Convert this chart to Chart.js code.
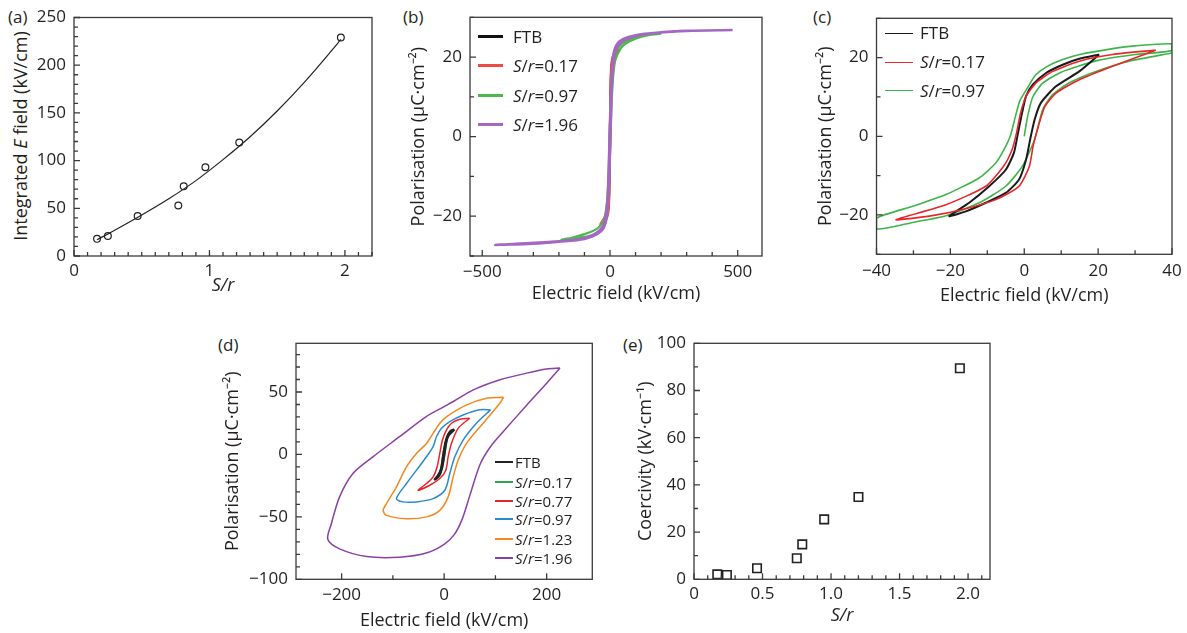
<!DOCTYPE html>
<html>
<head>
<meta charset="utf-8">
<script src="https://cdn.jsdelivr.net/npm/chart.js@4.4.1/dist/chart.umd.min.js"></script>
<style>
  body { margin: 0; background: #fff; width: 1187px; height: 633px; position: relative; overflow: hidden;
         font-family: "Open Sans", sans-serif; color: #231f20; }
  canvas { position: absolute; }
  .tag { position: absolute; font-size: 17px; line-height: 20px; white-space: nowrap; }
  .row { position: absolute; height: 20px; line-height: 20px; white-space: nowrap; }
  .sw { position: absolute; top: 10px; }
  .vt { position: absolute; font-size: 18px; line-height: 22px; white-space: nowrap;
        transform: translate(-50%, -50%) rotate(-90deg); }
</style>
</head>
<body>
<div class="tag" style="left:8px;top:7px">(a)</div>
<div class="tag" style="left:403px;top:7px">(b)</div>
<div class="tag" style="left:813px;top:7px">(c)</div>
<div class="tag" style="left:218px;top:335px">(d)</div>
<div class="tag" style="left:623px;top:335px">(e)</div>
<div class="vt" style="left:20px;top:136px">Integrated <i>E</i> field (kV/cm)</div>
<script>
// ---- (a) integrated field vs S/r
const srA = [0.17, 0.25, 0.47, 0.77, 0.81, 0.97, 1.22, 1.97];
const fieldA = [18, 21, 42, 53, 73, 93, 119, 229];
const fitSrA = [0.17, 0.3, 0.5, 0.7, 0.9, 1.1, 1.3, 1.5, 1.7, 1.9, 1.97];
const fitFieldA = [17, 27, 43, 60, 79, 101, 125, 152, 182, 215, 227];

// ---- (b) wide field loops
const ftbBx = [20, 10, 4, 1, -1, -3, -8, -20, -10, -4, -1, 1, 3, 8, 20];
const ftbBy = [20.5, 19.5, 16, 8, 0, -10, -18, -20.5, -19.5, -16, -8, 0, 10, 18, 20.5];
const r017Bx = [38, 25, 12, 5, 2, -1, -4, -10, -20, -38, -25, -12, -5, -2, 1, 4, 10, 20, 38];
const r017By = [22, 21.5, 20.5, 18.5, 14, 2, -10, -17, -20, -22, -21.5, -20.5, -18.5, -14, -2, 10, 17, 20, 22];
const r097Bx = [200, 150, 100, 60, 40, 20, 10, 5, 0, -5, -10, -20, -40, -60, -100, -150, -190,
                -150, -100, -60, -40, -20, -10, -5, 0, 5, 10, 20, 40, 60, 100, 150, 200];
const r097By = [25.9, 25.7, 25, 24, 23, 21, 18, 12, 3, -8, -15, -20, -22.5, -23.5, -24.5, -25.4, -25.9,
                -25.7, -25.2, -24.6, -23.8, -22, -19, -13, -4, 6, 13, 19, 22, 23.3, 24.6, 25.5, 25.9];
const r196Bx = [480, 300, 200, 100, 50, 25, 12, 5, 0, -5, -10, -20, -40, -100, -200, -300, -450,
                -300, -200, -100, -50, -25, -12, -5, 0, 5, 10, 20, 40, 100, 200, 300, 480];
const r196By = [26.8, 26.6, 26.2, 25.5, 24.5, 23, 20, 12, 3, -8, -16, -21, -23.5, -25.5, -26.3, -26.7, -27.2,
                -26.9, -26.4, -25.7, -24.5, -23, -20, -12, -3, 8, 16, 21, 23.5, 25.3, 26.2, 26.6, 26.8];

// ---- (c) low field loops
const ftbCx = [20.3, 14.9, 10.4, 5.9, 2.3, 0.5, -0.6, -1.7, -2.8, -5, -9.5, -14.9, -20.3,
               -15.8, -10.4, -5, -1.4, 0.5, 1.6, 2.8, 4.5, 8.6, 14.9, 20.3];
const ftbCy = [20.8, 19.7, 18.2, 16.1, 13.1, 10.2, 5.9, 0.8, -4.2, -8.5, -12.7, -16.9, -20.3,
               -19.1, -16.9, -14.4, -11, -5.9, -0.8, 4.2, 8.5, 12.7, 16.5, 20.8];
const r017Cx = [35.6, 23.9, 14.9, 7.7, 3.2, 0.5, -1, -2.1, -3.3, -5.6, -10.4, -21.2, -34.7,
                -25.7, -16.7, -7.7, -1.4, 1.4, 2.4, 3.8, 5.6, 8.6, 14.9, 23.9, 35.6];
const r017Cy = [21.9, 20.8, 19.1, 16.5, 13.6, 10.2, 5.9, 0.8, -3.4, -7.6, -12.7, -17.4, -21.2,
                -20.3, -18.6, -16.1, -12.7, -7.6, -2.5, 2.5, 7.6, 11, 14.4, 17.8, 21.9];
const r097Cx = [0, 0.9, 2.3, 5, 10, 20, 30, 40,
                40, 30, 24, 15, 10.4, 5.9, 3, 1, -1.2, -2.4, -3.8, -5.6, -7.7, -12.2, -21.2, -30.2, -40,
                -40, -30.2, -21.2, -12.2, -5, -0.5, 2.8, 5, 7.7, 12.2, 19.4, 28.4, 40];
const r097Cy = [0, 5, 10, 13.5, 16.3, 19.3, 20.8, 21.8,
                23.5, 23, 22.3, 20.8, 19.5, 17.6, 15.5, 12.5, 9, 5, 0, -3.6, -6.8, -10.6, -14.8, -17.8, -20.8,
                -23.6, -21.9, -20.2, -16.9, -12.7, -7.6, -0.8, 6.8, 10.6, 13.6, 16.5, 19.1, 21.2];

// ---- (d) loops for all samples
const ftbDx = [20, 12, 6, 2, -2, -6, -12, -18, -10, -4, 0, 4, 8, 20];
const ftbDy = [20, 18.5, 14, 8, -2, -12, -17, -20, -17, -10, 0, 10, 15, 20];
const r017Dx = [19, 10, 4, 0, -3, -6, -10, -16, -8, -3, 1, 4, 8, 19];
const r017Dy = [19.5, 17.5, 12, 5, -3, -11, -16, -19.5, -16, -9, 0, 9, 15, 19.5];
const r077Dx = [50, 30.6, 14.3, 4.6, -3.3, -8.5, -13.7, -21.5, -34.5, -50.7, -28, -8.5, 3.3, 7.8, 14.3, 27.3, 50];
const r077Dy = [29, 28.2, 25, 19.6, 11.5, 0.8, -9.9, -18, -23.3, -28.7, -24.7, -19.3, -12.6, -1.9, 8.8, 20.9, 29];
const r097Dx = [90.4, 69.6, 37, 11, -5.2, -15, -21.5, -34.5, -54, -73.5, -93, -80, -54, -21.5, 1.3, 11, 20.8, 37, 63, 90.4];
const r097Dy = [35.7, 35.7, 31.6, 26.3, 20.9, 14.2, 6.2, -1.9, -12.6, -23.3, -35.4, -38, -38, -35.4, -28.7, -15.3, -1.9, 11.5, 25, 35.7];
const r123Dx = [116, 83, 44, 5, -8.5, -21.5, -34.5, -54, -73.5, -93, -112.5, -119,
                -112.5, -73.5, -34.5, -8.5, 7.8, 17.6, 27.3, 43.6, 76, 108.6, 116];
const r123Dy = [45.8, 45, 39.7, 30.3, 24.9, 16.9, 8.8, 0.8, -9.9, -26, -39.4, -44.8,
                -48.8, -51.5, -50, -44.8, -34, -18, -4.6, 8.8, 25, 41, 45.8];
const r196Dx = [226, 200, 161, 109, 57, 18, 0, -35, -87, -139, -178, -204, -220, -227,
                -204, -151, -87, -35, 0, 20, 35, 50, 70, 90, 118, 160, 200, 226];
const r196Dy = [69.2, 68.4, 65.1, 59.8, 51.7, 42.4, 38.3, 30.3, 14.2, -1.9, -15.3, -34, -55.5, -68,
                -75.6, -81.8, -82.3, -79, -72, -64, -52, -33, -8, 6, 19.5, 39, 57, 69.2];

// ---- (e) coercivity vs S/r
const srE = [0.17, 0.24, 0.46, 0.75, 0.79, 0.95, 1.2, 1.94];
const coerE = [2.1, 1.8, 4.7, 8.9, 14.8, 25.4, 34.9, 89.4];

const ink = '#231f20';
const font = { family: '"Open Sans", sans-serif', size: 17 };
const titleFont = { family: '"Open Sans", sans-serif', size: 18 };
const minus = v => v < 0 ? '\u2212' + Math.abs(v) : String(v);
const pts = (xs, ys) => xs.map((x, i) => ({ x: x, y: ys[i] }));
const loop = (label, xs, ys, color, w, t) => ({
  label: label, data: pts(xs, ys), showLine: true, borderColor: color, borderWidth: w,
  pointRadius: 0, tension: t === undefined ? 0.3 : t, fill: false
});

// frame + inward ticks on left and bottom
const frameTicks = {
  id: 'frameTicks',
  afterDatasetsDraw(chart, args, o) {
    const { ctx, chartArea: a, scales: { x, y } } = chart;
    ctx.save();
    ctx.strokeStyle = '#3a3a3a';
    ctx.lineWidth = 1.3;
    ctx.beginPath();
    const run = (sc, minor, major, fn) => {
      for (let i = Math.ceil(sc.min / minor - 1e-9); i * minor <= sc.max + 1e-9; i++) {
        const v = i * minor;
        const r = v / major;
        fn(sc.getPixelForValue(v), Math.abs(r - Math.round(r)) < 1e-6 ? 6 : 4);
      }
    };
    run(x, o.xMinor, o.xMajor, (p, l) => { ctx.moveTo(p, a.bottom); ctx.lineTo(p, a.bottom - l); });
    run(y, o.yMinor, o.yMajor, (p, l) => { ctx.moveTo(a.left, p); ctx.lineTo(a.left + l, p); });
    ctx.stroke();
    ctx.strokeRect(a.left, a.top, a.right - a.left, a.bottom - a.top);
    ctx.restore();
  }
};

function panel(p) {
  const [L, T, R, B] = p.box;
  const half = titleFont.size * 0.6;
  const cl = Math.round(p.yTitleX - half), ct = Math.round(T - 14);
  const yw = L - cl, padTop = T - ct;
  const w = Math.round(yw + (R - L) + 16);
  const h = Math.round(padTop + (B - T) + (p.xTitleY - B + half));
  const xh = h - padTop - (B - T);
  const cv = document.createElement('canvas');
  cv.width = w; cv.height = h;
  cv.style.left = cl + 'px'; cv.style.top = ct + 'px';
  document.body.appendChild(cv);
  new Chart(cv, {
    type: 'scatter',
    data: { datasets: p.datasets },
    options: {
      responsive: false, animation: false,
      layout: { padding: { left: 0, top: padTop, right: w - yw - (R - L), bottom: 0 } },
      plugins: { legend: { display: false }, tooltip: { enabled: false }, frameTicks: p.ticks },
      scales: {
        x: {
          type: 'linear', min: p.x[0], max: p.x[1],
          afterBuildTicks: s => { s.ticks = p.xt.map(v => ({ value: v })); },
          afterFit: s => { s.height = xh; s.paddingLeft = 0; s.paddingRight = 0; },
          grid: { display: false, drawTicks: false }, border: { display: false },
          ticks: { font: font, color: ink, padding: p.xPad, autoSkip: false, maxRotation: 0,
                   callback: p.xFmt || minus },
          title: { display: true, text: p.xTitle, color: ink, padding: 0,
                   font: Object.assign({}, titleFont, p.xItalic ? { style: 'italic' } : {}) }
        },
        y: {
          type: 'linear', min: p.y[0], max: p.y[1],
          afterBuildTicks: s => { s.ticks = p.yt.map(v => ({ value: v })); },
          afterFit: s => { s.width = yw; s.paddingTop = 0; s.paddingBottom = 0; },
          grid: { display: false, drawTicks: false }, border: { display: false },
          ticks: { font: font, color: ink, padding: 8, autoSkip: false, callback: minus },
          title: { display: !!p.yTitle, text: p.yTitle || '', color: ink, padding: 0, font: titleFont }
        }
      }
    },
    plugins: [frameTicks]
  });
}

function legend(items, lineX0, lineX1, textX, rows, size, lw) {
  items.forEach((it, i) => {
    const d = document.createElement('div');
    d.className = 'row';
    d.style.left = lineX0 + 'px';
    d.style.top = (rows[i] - 10) + 'px';
    d.style.fontSize = size + 'px';
    const sw = document.createElement('span');
    sw.className = 'sw';
    sw.style.left = '0px';
    sw.style.width = (lineX1 - lineX0) + 'px';
    sw.style.height = lw + 'px';
    sw.style.marginTop = (-lw / 2) + 'px';
    sw.style.background = it.borderColor;
    d.appendChild(sw);
    const t = document.createElement('span');
    t.style.position = 'absolute';
    t.style.left = (textX - lineX0) + 'px';
    t.innerHTML = it.label === 'FTB' ? 'FTB' : '<i>S</i>/<i>r</i>=' + it.label.split('=')[1];
    d.appendChild(t);
    document.body.appendChild(d);
  });
}

// (a) -- y title is the html div above (italic E)
panel({
  box: [74, 17.5, 372, 256], yTitleX: 20, xTitleY: 286, xPad: 5,
  x: [0, 2.2], y: [0, 250], xt: [0, 1, 2], yt: [0, 50, 100, 150, 200, 250],
  ticks: { xMinor: 0.1, xMajor: 1, yMinor: 10, yMajor: 50 },
  xTitle: 'S/r', xItalic: true,
  datasets: [
    { label: 'data', data: pts(srA, fieldA), pointStyle: 'circle', pointRadius: 3.4,
      borderColor: '#222', backgroundColor: 'rgba(0,0,0,0)', borderWidth: 1.2 },
    { label: 'fit', data: pts(fitSrA, fitFieldA), showLine: true, pointRadius: 0,
      borderColor: '#222', borderWidth: 1.2, cubicInterpolationMode: 'monotone' }
  ]
});

// (b)
const dsB = [
  loop('S/r=1.96', r196Bx, r196By, '#a468c4', 2.6),
  loop('S/r=0.97', r097Bx, r097By, '#4fb84b', 2.2),
  loop('S/r=0.17', r017Bx, r017By, '#ee4b44', 2),
  loop('FTB', ftbBx, ftbBy, '#111', 2)
];
panel({
  box: [470, 17.3, 762, 256], yTitleX: 419, xTitleY: 294.5, xPad: 6,
  x: [-548, 595], y: [-30, 30], xt: [-500, 0, 500], yt: [-20, 0, 20],
  ticks: { xMinor: 100, xMajor: 500, yMinor: 10, yMajor: 20 },
  xTitle: 'Electric field (kV/cm)', yTitle: 'Polarisation (\u03bcC\u00b7cm\u207b\u00b2)',
  datasets: dsB
});
legend(dsB.slice().reverse(), 478, 503, 513, [36.7, 65.7, 95.5, 124.5], 17, 2.5);

// (c)
const dsC = [
  loop('S/r=0.17', r017Cx, r017Cy, '#e8262a', 1.6, 0.2),
  loop('FTB', ftbCx, ftbCy, '#1a1a1a', 2, 0.2),
  loop('S/r=0.97', r097Cx, r097Cy, '#3db549', 1.6, 0.2)
];
panel({
  box: [876.5, 18.3, 1172, 254.3], yTitleX: 826, xTitleY: 296, xPad: 7,
  x: [-40, 40], y: [-30, 30], xt: [-40, -20, 0, 20, 40], yt: [-20, 0, 20],
  ticks: { xMinor: 10, xMajor: 20, yMinor: 10, yMajor: 20 },
  xTitle: 'Electric field (kV/cm)', yTitle: 'Polarisation (\u03bcC\u00b7cm\u207b\u00b2)',
  datasets: dsC
});
legend([dsC[1], dsC[0], dsC[2]], 885, 913, 920, [33.3, 62.3, 90.7], 17, 1.6);

// (d)
const dsD = [
  loop('FTB', ftbDx, ftbDy, '#222', 2.6),
  loop('S/r=0.17', r017Dx, r017Dy, '#2ea44f', 1.8),
  loop('S/r=0.77', r077Dx, r077Dy, '#e8262a', 1.5),
  loop('S/r=0.97', r097Dx, r097Dy, '#2a8ad0', 1.5),
  loop('S/r=1.23', r123Dx, r123Dy, '#f5871f', 1.5),
  loop('S/r=1.96', r196Dx, r196Dy, '#8c3fa5', 1.5)
];
panel({
  box: [296, 343.3, 592.3, 579.3], yTitleX: 232.5, xTitleY: 621.5, xPad: 5.5,
  x: [-289, 289], y: [-100, 89], xt: [-200, 0, 200], yt: [-100, -50, 0, 50],
  ticks: { xMinor: 100, xMajor: 200, yMinor: 10, yMajor: 50 },
  xTitle: 'Electric field (kV/cm)', yTitle: 'Polarisation (\u03bcC\u00b7cm\u207b\u00b2)',
  datasets: dsD
});
legend(dsD, 495, 513, 515, [462.3, 481.7, 500.7, 519.3, 539, 558.3], 15, 2);

// (e)
panel({
  box: [694, 343.3, 990, 579.3], yTitleX: 645.5, xTitleY: 616, xPad: 4.5,
  x: [0, 2.16], y: [0, 100], xt: [0, 0.5, 1, 1.5, 2], yt: [0, 20, 40, 60, 80, 100],
  ticks: { xMinor: 0.1, xMajor: 0.5, yMinor: 10, yMajor: 20 },
  xFmt: v => v === 0 ? '0' : v.toFixed(1),
  xTitle: 'S/r', xItalic: true, yTitle: 'Coercivity (kV\u00b7cm\u207b\u00b9)',
  datasets: [
    { label: 'coercivity', data: pts(srE, coerE), pointStyle: 'rect', pointRadius: 6,
      borderColor: '#222', backgroundColor: 'rgba(0,0,0,0)', borderWidth: 1.6 }
  ]
});
</script>
</body>
</html>
